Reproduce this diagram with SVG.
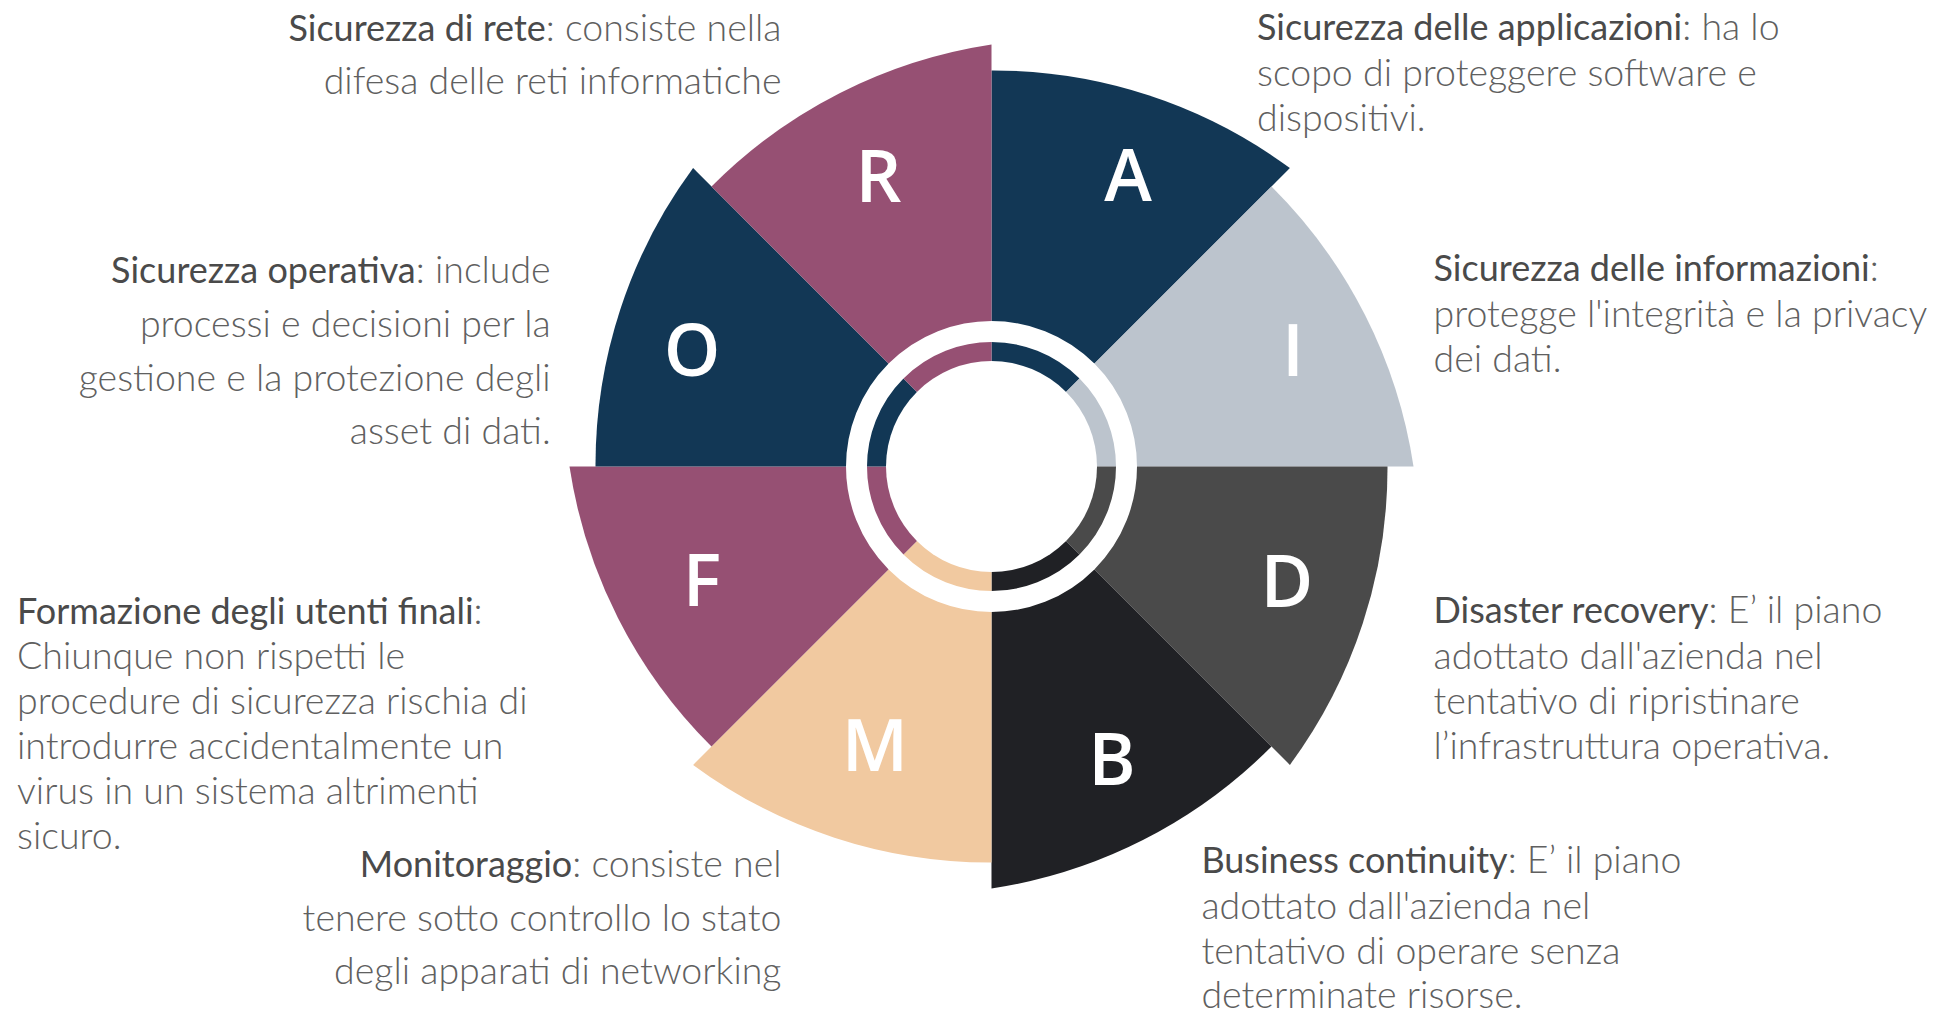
<svg xmlns="http://www.w3.org/2000/svg" width="1936" height="1012" viewBox="0 0 1936 1012">
<style>
.t{font-family:Lato,"Liberation Sans",sans-serif;font-size:37.5px;font-weight:300;fill:#606060}
.h{font-size:36px;font-weight:400;fill:#4A4A4A}
.l{font-family:"Open Sans","Liberation Sans",sans-serif;font-size:72px;font-weight:600;fill:#ffffff;text-anchor:middle}
.mauve{fill:#965073}.navy{fill:#123755}.lgray{fill:#BCC4CD}.dgray{fill:#4A4A4A}.black{fill:#202125}.peach{fill:#F1C9A0}
</style>
<rect width="1936" height="1012" fill="#ffffff"/>
<g id="wheel">
<g id="sector-A"><path class="navy" d="M991.5,466.5 L991.5,70.5 A500,500 0 0 1 1289.9,168.1 Z"/><text class="l" x="1128" y="201">A</text></g>
<g id="sector-I"><path class="lgray" d="M991.5,466.5 L1271.5,186.5 A500,500 0 0 1 1413.5,466.5 Z"/><text class="l" x="1293" y="376">I</text></g>
<g id="sector-D"><path class="dgray" d="M991.5,466.5 L1387.5,466.5 A500,500 0 0 1 1289.9,764.9 Z"/><text class="l" x="1287" y="607">D</text></g>
<g id="sector-B"><path class="black" d="M991.5,466.5 L1271.5,746.5 A500,500 0 0 1 991.5,888.5 Z"/><text class="l" x="1112" y="785">B</text></g>
<g id="sector-M"><path class="peach" d="M991.5,466.5 L991.5,862.5 A500,500 0 0 1 693.1,764.9 Z"/><text class="l" x="875" y="771">M</text></g>
<g id="sector-F"><path class="mauve" d="M991.5,466.5 L711.5,746.5 A500,500 0 0 1 569.5,466.5 Z"/><text class="l" x="702" y="606">F</text></g>
<g id="sector-O"><path class="navy" d="M991.5,466.5 L595.5,466.5 A500,500 0 0 1 693.1,168.1 Z"/><text class="l" x="692" y="376">O</text></g>
<g id="sector-R"><path class="mauve" d="M991.5,466.5 L711.5,186.5 A500,500 0 0 1 991.5,44.5 Z"/><text class="l" x="878.5" y="202">R</text></g>
<circle cx="991.5" cy="466.5" r="135" fill="none" stroke="#ffffff" stroke-width="21"/>
<circle cx="991.5" cy="466.5" r="105.5" fill="#ffffff"/>
</g>
<g id="connectors"></g>
<g id="text-R"><text class="t" text-anchor="end"><tspan x="781.5" y="40.5"><tspan class="h">Sicurezza di rete</tspan>: consiste nella</tspan><tspan x="781.5" y="94">difesa delle reti informatiche</tspan></text></g>
<g id="text-O"><text class="t" text-anchor="end"><tspan x="550.7" y="283.4"><tspan class="h">Sicurezza operativa</tspan>: include</tspan><tspan x="550.7" y="337">processi e decisioni per la</tspan><tspan x="550.7" y="390.5">gestione e la protezione degli</tspan><tspan x="550.7" y="443.5">asset di dati.</tspan></text></g>
<g id="text-M"><text class="t" text-anchor="end"><tspan x="781.5" y="877"><tspan class="h">Monitoraggio</tspan>: consiste nel</tspan><tspan x="781.5" y="930.5">tenere sotto controllo lo stato</tspan><tspan x="781.5" y="984">degli apparati di networking</tspan></text></g>
<g id="text-A"><text class="t"><tspan x="1257" y="40"><tspan class="h">Sicurezza delle applicazioni</tspan>: ha lo</tspan><tspan x="1257" y="85.5">scopo di proteggere software e</tspan><tspan x="1257" y="131">dispositivi.</tspan></text></g>
<g id="text-I"><text class="t"><tspan x="1433.5" y="281"><tspan class="h">Sicurezza delle informazioni</tspan>:</tspan><tspan x="1433.5" y="326.5">protegge l'integrità e la privacy</tspan><tspan x="1433.5" y="372">dei dati.</tspan></text></g>
<g id="text-D"><text class="t"><tspan x="1433.5" y="623"><tspan class="h">Disaster recovery</tspan>: E’ il piano</tspan><tspan x="1433.5" y="668.5">adottato dall'azienda nel</tspan><tspan x="1433.5" y="714">tentativo di ripristinare</tspan><tspan x="1433.5" y="759">l’infrastruttura operativa.</tspan></text></g>
<g id="text-B"><text class="t"><tspan x="1201.4" y="873"><tspan class="h">Business continuity</tspan>: E’ il piano</tspan><tspan x="1201.4" y="918.5">adottato dall'azienda nel</tspan><tspan x="1201.4" y="964">tentativo di operare senza</tspan><tspan x="1201.4" y="1008">determinate risorse.</tspan></text></g>
<g id="text-F"><text class="t"><tspan x="17" y="623.5"><tspan class="h">Formazione degli utenti finali</tspan>:</tspan><tspan x="17" y="668.5">Chiunque non rispetti le</tspan><tspan x="17" y="713.5">procedure di sicurezza rischia di</tspan><tspan x="17" y="758.5">introdurre accidentalmente un</tspan><tspan x="17" y="803.5">virus in un sistema altrimenti</tspan><tspan x="17" y="848.5">sicuro.</tspan></text></g>
</svg>
